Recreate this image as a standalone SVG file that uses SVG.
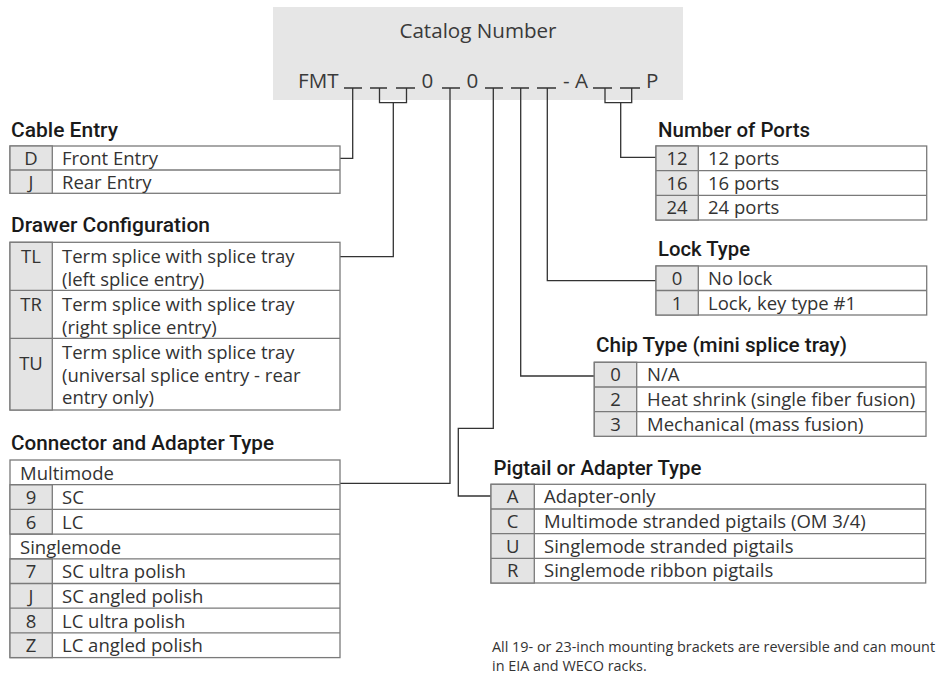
<svg xmlns="http://www.w3.org/2000/svg" width="937" height="675" viewBox="0 0 937 675">
<style>
.title{font-family:Roboto,"Noto Sans","Liberation Sans",sans-serif;font-weight:500;font-size:20px;fill:#1a1a1a}
.t{font-family:"Open Sans","Noto Sans","Liberation Sans",sans-serif;font-size:18.5px;fill:#333}
.k{font-family:"Open Sans","Noto Sans","Liberation Sans",sans-serif;font-size:18.5px;fill:#333;text-anchor:middle}
.h{font-family:"Open Sans","Noto Sans","Liberation Sans",sans-serif;font-size:20.6px;fill:#3a3a3a}
.note{font-family:"Open Sans","Noto Sans","Liberation Sans",sans-serif;font-size:14.4px;fill:#333}
.box{fill:#fff;stroke:#7a7a7a;stroke-width:1.3}
.key{fill:#e4e4e4;stroke:#7a7a7a;stroke-width:1.3}
.div{stroke:#7a7a7a;stroke-width:1.3;fill:none}
.c{stroke:#333;stroke-width:1.3;fill:none}
</style>
<rect x="0" y="0" width="937" height="675" fill="#fff"/>

<g id="catalog-number">
<rect x="273" y="7" width="410" height="93" fill="#e6e6e6"/>
<text class="h" x="478" y="37.5" text-anchor="middle">Catalog Number</text>
<text class="h" x="298" y="87.5">FMT</text>
<text class="h" x="421.5" y="87.5">0</text>
<text class="h" x="466.5" y="87.5">0</text>
<text class="h" x="563" y="87.5">- A</text>
<text class="h" x="646" y="87.5">P</text>
<g class="c">
<path d="M344 88H362M370 88H387M396 88H415M442 88H460M485 88H503M511 88H529M537 88H556M593 88H612M620 88H640"/>
<path d="M379.5 88V102.7H406.5V88M605 88V102.7H631.7V88"/>
</g>
</g>

<g id="connectors" class="c">
<path d="M352.7 88V158.3H340"/>
<path d="M393.3 102.7V256.7H340"/>
<path d="M450 88V483.3H340"/>
<path d="M493.3 88V428.3H458.3V496H491"/>
<path d="M520.7 88V376H594.3"/>
<path d="M547.3 88V280.7H656"/>
<path d="M620.7 102.7V157.3H656"/>
</g>

<g id="cable-entry">
<text class="title" x="11" y="137" textLength="107" lengthAdjust="spacingAndGlyphs">Cable Entry</text>
<rect class="box" x="10" y="146" width="330" height="47.3"/>
<rect class="key" x="10" y="146" width="42.3" height="47.3"/>
<path class="div" d="M10 170H340"/>
<text class="k" x="31" y="165">D</text><text class="t" x="62" y="165">Front Entry</text>
<text class="k" x="31" y="189">J</text><text class="t" x="62" y="189">Rear Entry</text>
</g>

<g id="drawer-configuration">
<text class="title" x="11" y="232" textLength="199" lengthAdjust="spacingAndGlyphs">Drawer Configuration</text>
<rect class="box" x="10" y="242.3" width="330" height="167.7"/>
<rect class="key" x="10" y="242.3" width="42.3" height="167.7"/>
<path class="div" d="M10 290.3H340M10 338.3H340"/>
<text class="k" x="31" y="263">TL</text>
<text class="t" x="62" y="263">Term splice with splice tray</text>
<text class="t" x="62" y="285.5">(left splice entry)</text>
<text class="k" x="31" y="311">TR</text>
<text class="t" x="62" y="311">Term splice with splice tray</text>
<text class="t" x="62" y="333.5">(right splice entry)</text>
<text class="k" x="31" y="370">TU</text>
<text class="t" x="62" y="359">Term splice with splice tray</text>
<text class="t" x="62" y="381.5">(universal splice entry - rear</text>
<text class="t" x="62" y="404">entry only)</text>
</g>

<g id="connector-adapter-type">
<text class="title" x="11" y="450" textLength="263" lengthAdjust="spacingAndGlyphs">Connector and Adapter Type</text>
<rect class="box" x="10" y="460" width="330" height="197.6"/>
<rect class="key" x="10" y="484.7" width="42.3" height="49.4"/>
<rect class="key" x="10" y="558.8" width="42.3" height="98.8"/>
<path class="div" d="M10 484.7H340M10 509.4H340M10 534.1H340M10 558.8H340M10 583.5H340M10 608.2H340M10 632.9H340"/>
<text class="t" x="20" y="479.5">Multimode</text>
<text class="k" x="31" y="504.2">9</text><text class="t" x="62" y="504.2">SC</text>
<text class="k" x="31" y="528.9">6</text><text class="t" x="62" y="528.9">LC</text>
<text class="t" x="20" y="553.6">Singlemode</text>
<text class="k" x="31" y="578.3">7</text><text class="t" x="62" y="578.3">SC ultra polish</text>
<text class="k" x="31" y="603">J</text><text class="t" x="62" y="603">SC angled polish</text>
<text class="k" x="31" y="627.7">8</text><text class="t" x="62" y="627.7">LC ultra polish</text>
<text class="k" x="31" y="652.4">Z</text><text class="t" x="62" y="652.4">LC angled polish</text>
</g>

<g id="number-of-ports">
<text class="title" x="658" y="137" textLength="152" lengthAdjust="spacingAndGlyphs">Number of Ports</text>
<rect class="box" x="656" y="146" width="270.7" height="74"/>
<rect class="key" x="656" y="146" width="42.3" height="74"/>
<path class="div" d="M656 170.7H926.7M656 195.3H926.7"/>
<text class="k" x="677" y="165">12</text><text class="t" x="708" y="165">12 ports</text>
<text class="k" x="677" y="189.7">16</text><text class="t" x="708" y="189.7">16 ports</text>
<text class="k" x="677" y="214.3">24</text><text class="t" x="708" y="214.3">24 ports</text>
</g>

<g id="lock-type">
<text class="title" x="658" y="256" textLength="92" lengthAdjust="spacingAndGlyphs">Lock Type</text>
<rect class="box" x="656" y="266" width="270.7" height="49"/>
<rect class="key" x="656" y="266" width="42.3" height="49"/>
<path class="div" d="M656 290.5H926.7"/>
<text class="k" x="677" y="285">0</text><text class="t" x="708" y="285">No lock</text>
<text class="k" x="677" y="309.5">1</text><text class="t" x="708" y="309.5">Lock, key type #1</text>
</g>

<g id="chip-type">
<text class="title" x="596" y="352" textLength="251" lengthAdjust="spacingAndGlyphs">Chip Type (mini splice tray)</text>
<rect class="box" x="594.3" y="362.3" width="331.7" height="74"/>
<rect class="key" x="594.3" y="362.3" width="42.4" height="74"/>
<path class="div" d="M594.3 387H926M594.3 411.7H926"/>
<text class="k" x="615.5" y="381.3">0</text><text class="t" x="647" y="381.3">N/A</text>
<text class="k" x="615.5" y="406">2</text><text class="t" x="647" y="406">Heat shrink (single fiber fusion)</text>
<text class="k" x="615.5" y="430.7">3</text><text class="t" x="647" y="430.7">Mechanical (mass fusion)</text>
</g>

<g id="pigtail-adapter-type">
<text class="title" x="493.5" y="475" textLength="208" lengthAdjust="spacingAndGlyphs">Pigtail or Adapter Type</text>
<rect class="box" x="491" y="484.3" width="434.7" height="98.7"/>
<rect class="key" x="491" y="484.3" width="43.3" height="98.7"/>
<path class="div" d="M491 509H925.7M491 533.7H925.7M491 558.3H925.7"/>
<text class="k" x="512.7" y="503.3">A</text><text class="t" x="544" y="503.3">Adapter-only</text>
<text class="k" x="512.7" y="528">C</text><text class="t" x="544" y="528">Multimode stranded pigtails (OM 3/4)</text>
<text class="k" x="512.7" y="552.7">U</text><text class="t" x="544" y="552.7">Singlemode stranded pigtails</text>
<text class="k" x="512.7" y="577.3">R</text><text class="t" x="544" y="577.3">Singlemode ribbon pigtails</text>
</g>

<g id="footnote">
<text class="note" x="492" y="652">All 19- or 23-inch mounting brackets are reversible and can mount</text>
<text class="note" x="492" y="671">in EIA and WECO racks.</text>
</g>
</svg>
